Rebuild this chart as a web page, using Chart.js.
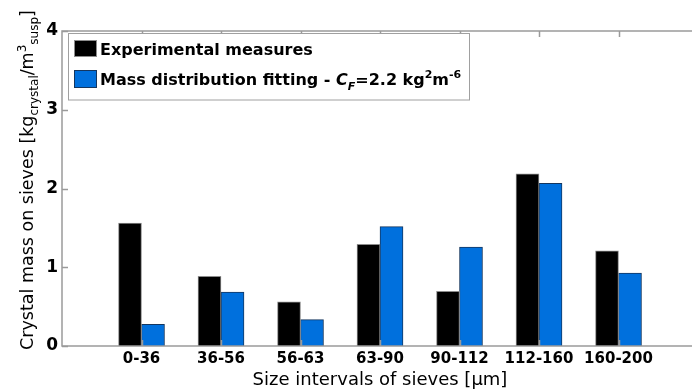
<!DOCTYPE html>
<html>
<head>
<meta charset="utf-8">
<script src="https://cdn.jsdelivr.net/npm/chart.js@4"></script>
<style>
    html, body { margin: 0; padding: 0; overflow: hidden; background: #fff; }
    #grafico { display: block; }
</style>
</head>
<body>
<canvas id="grafico" width="700" height="389"></canvas>
<script>
const intervalos = ['0-36', '36-56', '56-63', '63-90', '90-112', '112-160', '160-200'];
const experimental = [1.56, 0.885, 0.56, 1.29, 0.695, 2.185, 1.21];
const ajuste = [0.275, 0.685, 0.335, 1.515, 1.255, 2.065, 0.925];
const yTicks = [0, 1, 2, 3, 4];

// textos con sub/superindices
const leyendaTextos = [
    [{ t: 'Experimental measures' }],
    [{ t: 'Mass distribution fitting - ' }, { t: 'C', italic: true }, { t: 'F', italic: true, sub: true },
     { t: '=2.2 kg' }, { t: '2', sup: true }, { t: 'm' }, { t: '-6', sup: true }]
];
const tituloY = [{ t: 'Crystal mass on sieves [kg' }, { t: 'crystal', sub: true }, { t: '/m' },
    { t: '3', sup: true }, { t: 'susp', sub: true }, { t: ']' }];

const FUENTE = 'DejaVu Sans';

function dibujarRico(ctx, segmentos, x, y, size, weight) {
    let cx = x;
    segmentos.forEach(s => {
        const sz = (s.sub || s.sup) ? Math.round(size * 0.7) : size;
        let dy = 0;
        if (s.sup) dy = -size * 0.42;
        if (s.sub) dy = size * 0.3;
        ctx.font = `${s.italic ? 'italic ' : ''}${weight} ${sz}px "${FUENTE}"`;
        ctx.fillText(s.t, cx, y + dy);
        cx += ctx.measureText(s.t).width;
    });
    return cx - x;
}

const marcoPlugin = {
    id: 'marco',
    afterDatasetsDraw(chart) {
        const { ctx, chartArea: a, scales: { x, y } } = chart;
        ctx.save();
        ctx.strokeStyle = '#9a9a9a';
        ctx.lineWidth = 1.5;
        ctx.strokeRect(a.left, a.top, a.right - a.left, a.bottom - a.top);
        const largo = 6;
        ctx.beginPath();
        x.ticks.forEach(t => {
            const px = Math.round(x.getPixelForValue(t.value)) + 0.5;
            ctx.moveTo(px, a.bottom); ctx.lineTo(px, a.bottom - largo);
            ctx.moveTo(px, a.top); ctx.lineTo(px, a.top + largo);
        });
        y.ticks.forEach(t => {
            const py = Math.round(y.getPixelForValue(t.value)) + 0.5;
            ctx.moveTo(a.left, py); ctx.lineTo(a.left + largo, py);
            ctx.moveTo(a.right, py); ctx.lineTo(a.right - largo, py);
        });
        ctx.stroke();
        ctx.restore();
    }
};

const leyendaPlugin = {
    id: 'leyenda',
    afterDraw(chart) {
        const ctx = chart.ctx;
        ctx.save();
        ctx.fillStyle = '#fff';
        ctx.fillRect(68, 33.5, 401, 66.5);
        ctx.strokeStyle = '#a0a0a0';
        ctx.lineWidth = 1;
        ctx.strokeRect(68.5, 33.5, 401, 66.5);
        const filas = [{ top: 40, h: 17 }, { top: 70, h: 18 }];
        chart.data.datasets.forEach((ds, i) => {
            const f = filas[i];
            ctx.fillStyle = ds.backgroundColor;
            ctx.fillRect(74, f.top, 23, f.h);
            ctx.strokeStyle = ds.borderColor;
            ctx.strokeRect(74.5, f.top + 0.5, 22, f.h - 1);
            ctx.fillStyle = '#000';
            ctx.textBaseline = 'alphabetic';
            dibujarRico(ctx, leyendaTextos[i], 100, f.top + f.h / 2 + 6, 16, 'bold');
        });
        ctx.restore();
    }
};

const tituloYPlugin = {
    id: 'tituloY',
    afterDraw(chart) {
        const ctx = chart.ctx;
        ctx.save();
        ctx.translate(33, 350);
        ctx.rotate(-Math.PI / 2);
        ctx.fillStyle = '#000';
        ctx.textBaseline = 'alphabetic';
        dibujarRico(ctx, tituloY, 0, 0, 17.5, 'normal');
        ctx.restore();
    }
};

const ctx = document.getElementById('grafico').getContext('2d');
new Chart(ctx, {
    type: 'bar',
    data: {
        datasets: [{
            label: 'Experimental measures',
            data: experimental.map((v, i) => ({ x: i + 1, y: v })),
            backgroundColor: '#000000',
            borderColor: '#8c8c8c',
            borderWidth: 1
        }, {
            label: 'Mass distribution fitting - CF=2.2 kg2m-6',
            data: ajuste.map((v, i) => ({ x: i + 1, y: v })),
            backgroundColor: '#0070dd',
            borderColor: '#14365f',
            borderWidth: 1
        }]
    },
    options: {
        responsive: false,
        animation: false,
        layout: { padding: { top: 31, right: 2, left: 0, bottom: 0 } },
        datasets: { bar: { barThickness: 23 } },
        plugins: { legend: { display: false }, tooltip: { enabled: false } },
        scales: {
            x: {
                type: 'linear',
                offset: false,
                min: 0,
                max: 8,
                afterBuildTicks: s => { s.ticks = intervalos.map((_, i) => ({ value: i + 1 })); },
                afterFit: s => { s.height = 43; },
                grid: { display: false, drawTicks: false, offset: false },
                border: { display: false },
                ticks: {
                    callback: v => intervalos[v - 1],
                    font: { family: FUENTE, size: 15, weight: 'bold' },
                    color: '#000',
                    padding: 4,
                    maxRotation: 0,
                    autoSkip: false
                },
                title: {
                    display: true,
                    text: 'Size intervals of sieves [µm]',
                    font: { family: FUENTE, size: 18, lineHeight: 1 },
                    color: '#000',
                    padding: { top: 0, bottom: 0 }
                }
            },
            y: {
                min: 0,
                max: 4,
                afterBuildTicks: s => { s.ticks = yTicks.map(v => ({ value: v })); },
                afterFit: s => { s.width = 62; },
                grid: { display: false, drawTicks: false },
                border: { display: false },
                ticks: {
                    font: { family: FUENTE, size: 17, weight: 'bold' },
                    color: '#000',
                    padding: 4
                }
            }
        }
    },
    plugins: [marcoPlugin, leyendaPlugin, tituloYPlugin]
});
</script>
</body>
</html>
